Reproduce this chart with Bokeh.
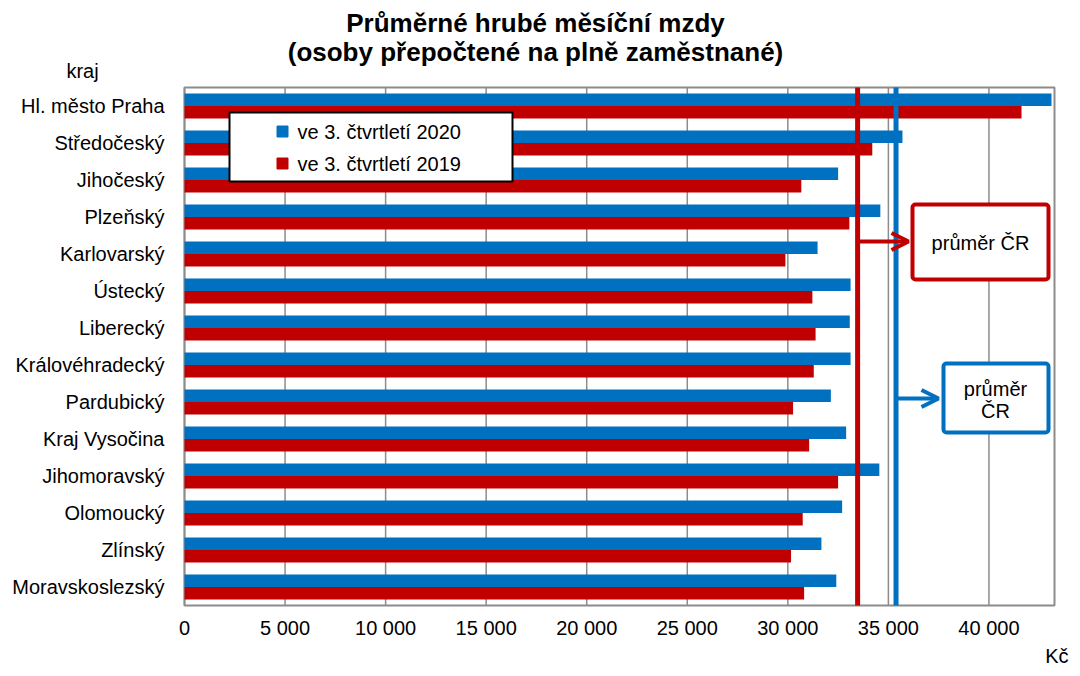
from bokeh.plotting import figure
from bokeh.models import (Range1d, FixedTicker, BoxAnnotation, Label, LinearAxis,
                          Arrow, OpenHead, ColumnDataSource)
from bokeh.transform import dodge
from bokeh.embed import file_html
from bokeh.resources import INLINE

# ---- data ----
regions = ["Hl. město Praha", "Středočeský", "Jihočeský", "Plzeňský",
           "Karlovarský", "Ústecký", "Liberecký", "Královéhradecký",
           "Pardubický", "Kraj Vysočina", "Jihomoravský", "Olomoucký",
           "Zlínský", "Moravskoslezský"]
q3_2020 = [43110, 35700, 32500, 34600, 31480, 33120, 33080, 33120,
           32140, 32900, 34550, 32700, 31670, 32410]
q3_2019 = [41620, 34200, 30670, 33060, 29880, 31220, 31380, 31290,
           30260, 31060, 32500, 30740, 30160, 30810]
avg_2020 = 35380
avg_2019 = 33470
x_max = 43260
x_ticks = [0, 5000, 10000, 15000, 20000, 25000, 30000, 35000, 40000]
x_tick_labels = ["0", "5 000", "10 000", "15 000", "20 000", "25 000",
                 "30 000", "35 000", "40 000"]
series_names = ["ve 3. čtvrtletí 2020", "ve 3. čtvrtletí 2019"]
title_lines = ["Průměrné hrubé měsíční mzdy",
               "(osoby přepočtené na plně zaměstnané)"]

BLUE = "#0070C0"
RED = "#C00000"
GRID = "#8c8c8c"
FONT = "Liberation Sans"

# ---- layout (pixels inside the figure canvas) ----
W, H = 1072, 668
FL, FR, FT, FB = 184, 1054, 87, 605   # plotting area box
n = len(regions)


def px2x(px):
    return (px - FL) / (FR - FL) * x_max


def px2y(py):
    return (n - 0.5) - (py - FT) / (FB - FT) * n


p = figure(width=W, height=H, output_backend="svg", toolbar_location=None,
           x_range=Range1d(px2x(0), px2x(W)), y_range=Range1d(px2y(H), px2y(0)),
           x_axis_location=None, y_axis_location=None,
           min_border=0, min_border_left=0, min_border_right=0,
           min_border_top=0, min_border_bottom=0)
p.outline_line_color = None
p.grid.visible = False
p.background_fill_color = "white"
p.border_fill_color = "white"

ypos = [n - 1 - i for i in range(n)]

# grid lines and plot-area border
p.segment(x0=x_ticks, x1=x_ticks, y0=[-0.5] * len(x_ticks),
          y1=[n - 0.5] * len(x_ticks), line_color=GRID, line_width=1.5)
p.add_layout(BoxAnnotation(left=0, right=x_max, bottom=-0.5, top=n - 0.5,
                           fill_alpha=0, line_color=GRID, line_alpha=1,
                           line_width=2, level="underlay"))

src = ColumnDataSource(dict(y=ypos, v20=q3_2020, v19=q3_2019))
bh = 0.336
p.hbar(y=dodge("y", bh / 2), right="v20", left=0, height=bh, source=src,
       fill_color=BLUE, line_color=None)
p.hbar(y=dodge("y", -bh / 2), right="v19", left=0, height=bh, source=src,
       fill_color=RED, line_color=None)

# average lines
p.segment(x0=[avg_2019], x1=[avg_2019], y0=[-0.5], y1=[n - 0.5],
          line_color=RED, line_width=5)
p.segment(x0=[avg_2020], x1=[avg_2020], y0=[-0.5], y1=[n - 0.5],
          line_color=BLUE, line_width=5)

# axes placed at the edges of the plotting area
xaxis = LinearAxis(fixed_location=-0.5, ticker=FixedTicker(ticks=x_ticks))
xaxis.major_label_overrides = {t: l for t, l in zip(x_ticks, x_tick_labels)}
yaxis = LinearAxis(fixed_location=0, ticker=FixedTicker(ticks=ypos))
yaxis.major_label_overrides = {y: r for y, r in zip(ypos, regions)}
for ax in (xaxis, yaxis):
    ax.axis_line_color = None
    ax.major_tick_line_color = None
    ax.minor_tick_line_color = None
    ax.major_label_text_font = FONT
    ax.major_label_text_font_size = "20px"
    ax.major_label_text_color = "black"
xaxis.major_label_standoff = 5
yaxis.major_label_standoff = 14
p.add_layout(xaxis, "below")
p.add_layout(yaxis, "left")

# legend (manual)
p.add_layout(BoxAnnotation(left=px2x(229), right=px2x(512), top=px2y(112),
                           bottom=px2y(181), fill_color="white", fill_alpha=1,
                           line_color="black", line_alpha=1, line_width=2))
for py, col, name in zip([131, 163], [BLUE, RED], series_names):
    r = p.scatter(x=[px2x(282)], y=[px2y(py)], marker="square", size=11,
                  fill_color=col, line_color=col)
    r.level = "overlay"
    p.add_layout(Label(x=px2x(297), y=px2y(py), text=name, text_font=FONT,
                       text_font_size="20px", text_baseline="middle",
                       text_color="black"))

# "průměr ČR" call-outs
p.add_layout(BoxAnnotation(left=px2x(912), right=px2x(1048), top=px2y(204),
                           bottom=px2y(279), fill_color="white", fill_alpha=1,
                           line_color=RED, line_alpha=1, line_width=4,
                           border_radius=3))
p.add_layout(Label(x=px2x(980), y=px2y(242), text="průměr ČR", text_font=FONT,
                   text_font_size="20px", text_align="center",
                   text_baseline="middle", text_color="black"))
p.add_layout(Arrow(x_start=avg_2019, y_start=px2y(241), x_end=px2x(908),
                   y_end=px2y(241), line_color=RED, line_width=4,
                   end=OpenHead(size=17, line_color=RED, line_width=4)))

p.add_layout(BoxAnnotation(left=px2x(943), right=px2x(1048), top=px2y(363),
                           bottom=px2y(432), fill_color="white", fill_alpha=1,
                           line_color=BLUE, line_alpha=1, line_width=4,
                           border_radius=3))
p.add_layout(Label(x=px2x(995), y=px2y(388), text="průměr", text_font=FONT,
                   text_font_size="20px", text_align="center",
                   text_baseline="middle", text_color="black"))
p.add_layout(Label(x=px2x(995), y=px2y(410), text="ČR", text_font=FONT,
                   text_font_size="20px", text_align="center",
                   text_baseline="middle", text_color="black"))
p.add_layout(Arrow(x_start=avg_2020, y_start=px2y(398), x_end=px2x(938),
                   y_end=px2y(398), line_color=BLUE, line_width=4,
                   end=OpenHead(size=17, line_color=BLUE, line_width=4)))

# title and captions
for py, line in zip([22, 51], title_lines):
    p.add_layout(Label(x=px2x(535), y=px2y(py), text=line, text_font=FONT,
                       text_font_size="26px", text_font_style="bold",
                       text_align="center", text_baseline="middle",
                       text_color="black"))
p.add_layout(Label(x=px2x(82), y=px2y(70), text="kraj", text_font=FONT,
                   text_font_size="20px", text_align="center",
                   text_baseline="middle", text_color="black"))
p.add_layout(Label(x=px2x(1068), y=px2y(655), text="Kč", text_font=FONT,
                   text_font_size="20px", text_align="right",
                   text_baseline="middle", text_color="black"))

open("out.html", "w").write(file_html(p, INLINE))
